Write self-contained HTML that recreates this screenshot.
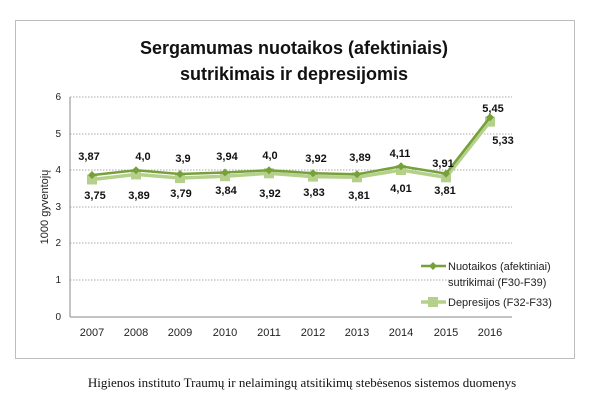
<!DOCTYPE html>
<html><head><meta charset="utf-8"><style>
body{margin:0;background:#fff;width:600px;height:402px;overflow:hidden}
svg text{font-family:"Liberation Sans",sans-serif}
</style></head><body>
<svg width="600" height="402" xmlns="http://www.w3.org/2000/svg">
<rect x="15.5" y="20.5" width="559" height="338" fill="#fff" stroke="#bdbdbd" stroke-width="1"/>
<text x="294" y="54" text-anchor="middle" font-size="18" font-weight="bold" fill="#111">Sergamumas nuotaikos (afektiniais)</text>
<text x="294" y="80" text-anchor="middle" font-size="18" font-weight="bold" fill="#111">sutrikimais ir depresijomis</text>
<g stroke="#aaa" stroke-dasharray="1.5,1.5" stroke-width="1">
<line x1="70" y1="97" x2="512" y2="97"/><line x1="70" y1="134" x2="512" y2="134"/>
<line x1="70" y1="170" x2="512" y2="170"/><line x1="70" y1="207" x2="512" y2="207"/>
<line x1="70" y1="243" x2="512" y2="243"/><line x1="70" y1="280" x2="512" y2="280"/>
</g>
<line x1="70" y1="97" x2="70" y2="317" stroke="#888"/>
<line x1="70" y1="317" x2="512" y2="317" stroke="#888"/>
<g font-size="10" fill="#222" text-anchor="end">
<text x="61" y="100">6</text><text x="61" y="137">5</text><text x="61" y="173">4</text>
<text x="61" y="210">3</text><text x="61" y="246">2</text><text x="61" y="283">1</text><text x="61" y="320">0</text>
</g>
<text transform="translate(48,207) rotate(-90)" text-anchor="middle" font-size="11" fill="#222">1000 gyventojų</text>
<g font-size="11" fill="#222" text-anchor="middle">
<text x="92" y="336">2007</text><text x="136" y="336">2008</text><text x="180" y="336">2009</text><text x="225" y="336">2010</text><text x="269" y="336">2011</text><text x="313" y="336">2012</text><text x="357" y="336">2013</text><text x="401" y="336">2014</text><text x="446" y="336">2015</text><text x="490" y="336">2016</text>
</g>
<polyline fill="none" stroke="#b5d08a" stroke-width="3.5" points="92,179.5 136,174.4 180,178.0 225,176.2 269,173.3 313,176.6 357,177.3 401,170.0 446,177.3 490,121.6"/>
<g fill="#b5d08a">
<rect x="87" y="174.5" width="10" height="10"/><rect x="131" y="169.4" width="10" height="10"/><rect x="175" y="173" width="10" height="10"/><rect x="220" y="171.2" width="10" height="10"/><rect x="264" y="168.3" width="10" height="10"/><rect x="308" y="171.6" width="10" height="10"/><rect x="352" y="172.3" width="10" height="10"/><rect x="396" y="165" width="10" height="10"/><rect x="441" y="172.3" width="10" height="10"/><rect x="485" y="116.6" width="10" height="10"/>
</g>
<polyline fill="none" stroke="#76a03a" stroke-width="2.5" points="92,175.1 136,170.3 180,174.0 225,172.5 269,170.3 313,173.2 357,174.3 401,166.3 446,173.6 490,117.2"/>
<g fill="#76a03a">
<path d="M92,171 l4,4 l-4,4 l-4,-4z"/><path d="M136,166.3 l4,4 l-4,4 l-4,-4z"/><path d="M180,170 l4,4 l-4,4 l-4,-4z"/><path d="M225,168.5 l4,4 l-4,4 l-4,-4z"/><path d="M269,166.3 l4,4 l-4,4 l-4,-4z"/><path d="M313,169.2 l4,4 l-4,4 l-4,-4z"/><path d="M357,170.3 l4,4 l-4,4 l-4,-4z"/><path d="M401,162.3 l4,4 l-4,4 l-4,-4z"/><path d="M446,169.6 l4,4 l-4,4 l-4,-4z"/><path d="M490,113.2 l4,4 l-4,4 l-4,-4z"/>
</g>
<g font-size="11" font-weight="bold" fill="#111" text-anchor="middle">
<text x="89" y="160">3,87</text><text x="143" y="160">4,0</text><text x="183" y="162">3,9</text><text x="227" y="160">3,94</text><text x="270" y="159">4,0</text><text x="316" y="162">3,92</text><text x="360" y="161">3,89</text><text x="400" y="157">4,11</text><text x="443" y="167">3,91</text><text x="493" y="112">5,45</text>
<text x="95" y="199">3,75</text><text x="139" y="199">3,89</text><text x="181" y="197">3,79</text><text x="226" y="194">3,84</text><text x="270" y="197">3,92</text><text x="314" y="196">3,83</text><text x="359" y="199">3,81</text><text x="401" y="192">4,01</text><text x="445" y="194">3,81</text><text x="503" y="144">5,33</text>
</g>
<line x1="421" y1="266" x2="446" y2="266" stroke="#76a03a" stroke-width="2.5"/>
<path d="M433,262 l4,4 l-4,4 l-4,-4z" fill="#76a03a"/>
<text x="448" y="270" font-size="11" fill="#222">Nuotaikos (afektiniai)</text>
<text x="448" y="286" font-size="11" fill="#222">sutrikimai (F30-F39)</text>
<line x1="421" y1="302" x2="446" y2="302" stroke="#b5d08a" stroke-width="3.5"/>
<rect x="428" y="297" width="10" height="10" fill="#b5d08a"/>
<text x="448" y="306" font-size="11" fill="#222">Depresijos (F32-F33)</text>
<text x="302" y="387" text-anchor="middle" font-size="13" fill="#111" style="font-family:'Liberation Serif',serif">Higienos instituto Traumų ir nelaimingų atsitikimų stebėsenos sistemos duomenys</text>
</svg>
</body></html>
